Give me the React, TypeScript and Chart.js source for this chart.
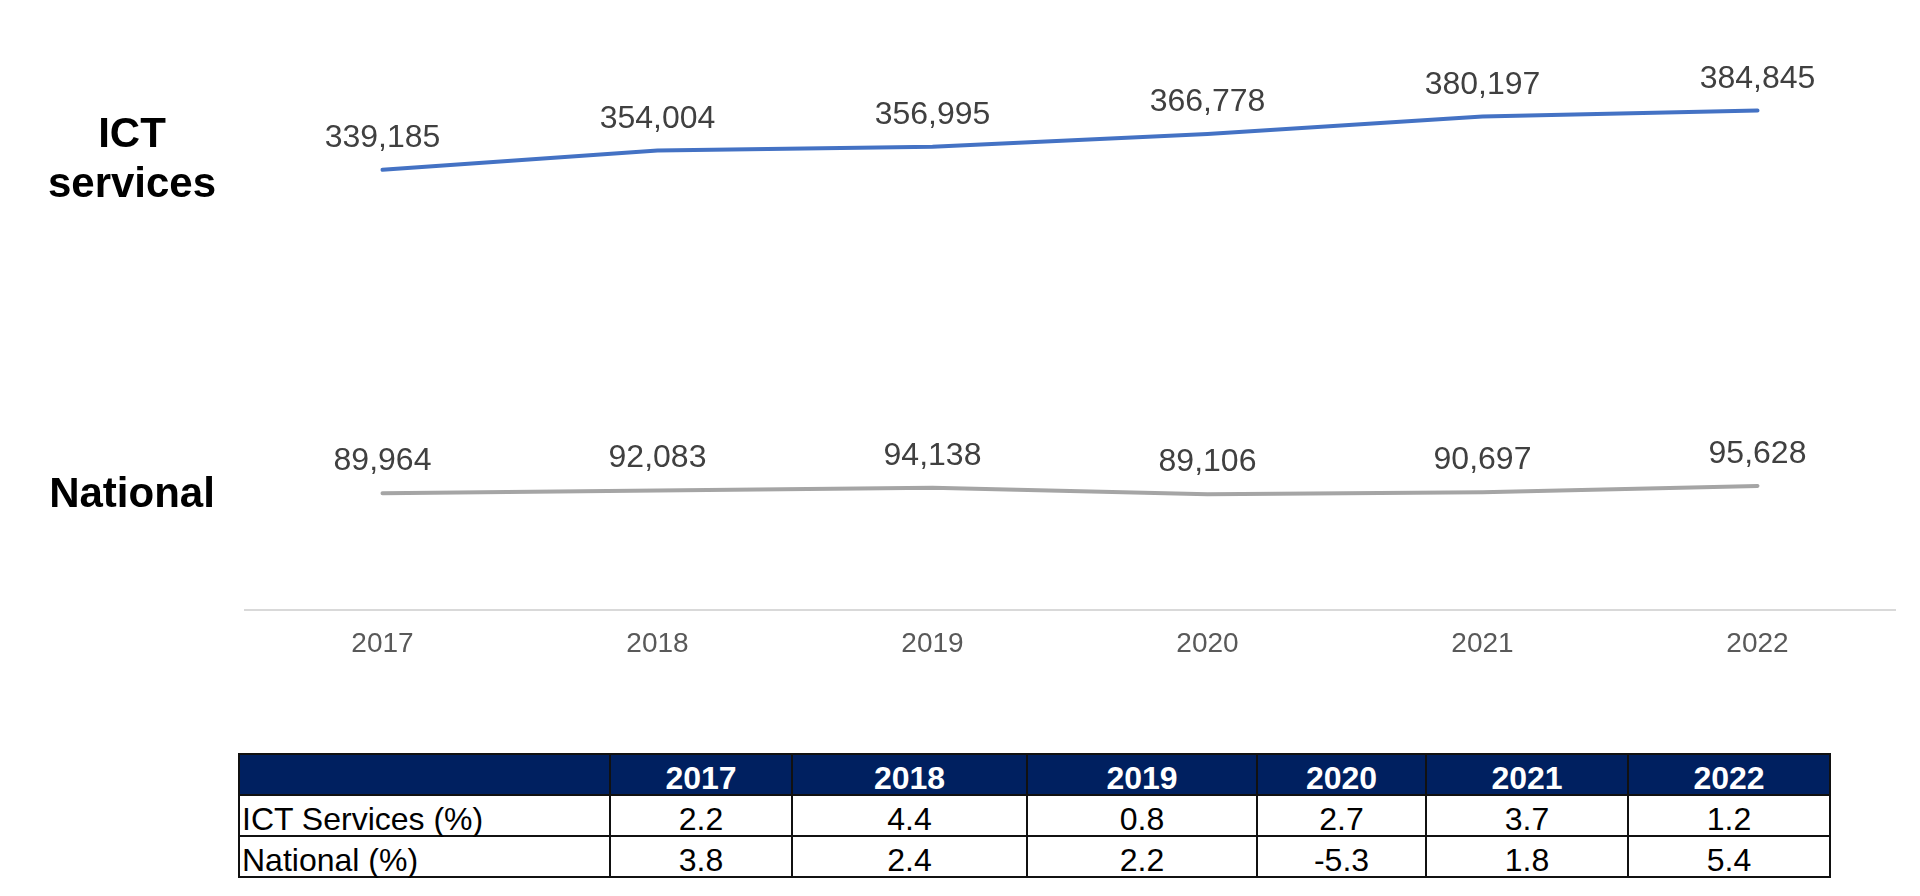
import { useEffect, useRef } from "react";
import { Chart, registerables } from "chart.js";

Chart.register(...registerables);

const years = ["2017", "2018", "2019", "2020", "2021", "2022"];
const ictServices = [339185, 354004, 356995, 366778, 380197, 384845];
const national = [89964, 92083, 94138, 89106, 90697, 95628];
const ictGrowth = ["2.2", "4.4", "0.8", "2.7", "3.7", "1.2"];
const nationalGrowth = ["3.8", "2.4", "2.2", "-5.3", "1.8", "5.4"];
const seriesNames = [["ICT", "services"], ["National"]];

const FONT = "'Liberation Sans', Arial, sans-serif";

// draws the value above each point and the series name left of the line
const labelPlugin = {
  id: "pointLabels",
  afterDatasetsDraw(chart: any) {
    const ctx = chart.ctx;
    ctx.save();
    ctx.textAlign = "center";
    ctx.textBaseline = "alphabetic";
    chart.data.datasets.forEach((ds: any, i: number) => {
      const meta = chart.getDatasetMeta(i);
      ctx.font = `32px ${FONT}`;
      ctx.fillStyle = "#404040";
      meta.data.forEach((pt: any, j: number) => {
        ctx.fillText(Number(ds.data[j]).toLocaleString("en-US"), pt.x, pt.y - 23);
      });
      const first = meta.data[0];
      const lines = seriesNames[i];
      ctx.font = `bold 42px ${FONT}`;
      ctx.fillStyle = "#000000";
      const startY = first.y + 14 - (lines.length - 1) * 37;
      lines.forEach((line, k) => {
        ctx.fillText(line, 132, startY + k * 50);
      });
    });
    ctx.restore();
  },
};

export default function App() {
  const ref = useRef<HTMLCanvasElement>(null);

  useEffect(() => {
    document.body.style.margin = "0";
    if (!ref.current) return;
    const chart = new Chart(ref.current, {
      type: "line",
      data: {
        labels: years,
        datasets: [
          {
            label: "ICT services",
            data: ictServices,
            borderColor: "#4472C4",
            borderWidth: 4,
            borderCapStyle: "round",
            pointRadius: 0,
            tension: 0,
          },
          {
            label: "National",
            data: national,
            borderColor: "#A5A5A5",
            borderWidth: 4,
            borderCapStyle: "round",
            pointRadius: 0,
            tension: 0,
          },
        ],
      },
      options: {
        responsive: false,
        animation: false,
        layout: { padding: { left: 245, right: 25, top: 26, bottom: 30 } },
        plugins: {
          legend: { display: false },
          tooltip: { enabled: false },
        },
        scales: {
          x: {
            offset: true,
            grid: { display: false, drawTicks: false },
            border: { display: true, color: "#D9D9D9", width: 2 },
            ticks: {
              color: "#595959",
              font: { family: FONT, size: 28 },
              padding: 17,
            },
            afterFit: (scale: any) => {
              scale.height = 60;
            },
          },
          y: {
            display: false,
            min: 0,
            max: 450000,
          },
        },
      },
      plugins: [labelPlugin],
    });
    return () => {
      chart.destroy();
    };
  }, []);

  const colWidths = [371, 182, 235, 230, 169, 202, 202];
  const cell = {
    border: "2px solid #111111",
    padding: "0 2px",
    height: 41,
    lineHeight: "32px",
    verticalAlign: "bottom" as const,
    textAlign: "center" as const,
    boxSizing: "border-box" as const,
    whiteSpace: "nowrap" as const,
  };
  const rows = [
    { name: "ICT Services (%)", values: ictGrowth },
    { name: "National (%)", values: nationalGrowth },
  ];

  return (
    <div style={{ position: "relative", width: 1920, height: 896, background: "#ffffff" }}>
      <canvas ref={ref} width={1920} height={700} style={{ display: "block" }} />
      <table
        style={{
          position: "absolute",
          left: 238,
          top: 753,
          width: 1591,
          borderCollapse: "collapse",
          tableLayout: "fixed",
          fontFamily: FONT,
          fontSize: 32,
          color: "#000000",
        }}
      >
        <colgroup>
          {colWidths.map((w, i) => (
            <col key={i} style={{ width: w }} />
          ))}
        </colgroup>
        <thead>
          <tr style={{ background: "#002060" }}>
            <th style={cell}></th>
            {years.map((y) => (
              <th key={y} style={{ ...cell, color: "#ffffff", fontWeight: "bold", fontSize: 32 }}>
                {y}
              </th>
            ))}
          </tr>
        </thead>
        <tbody>
          {rows.map((r) => (
            <tr key={r.name}>
              <td style={{ ...cell, textAlign: "left" }}>{r.name}</td>
              {r.values.map((v, i) => (
                <td key={i} style={cell}>
                  {v}
                </td>
              ))}
            </tr>
          ))}
        </tbody>
      </table>
    </div>
  );
}
